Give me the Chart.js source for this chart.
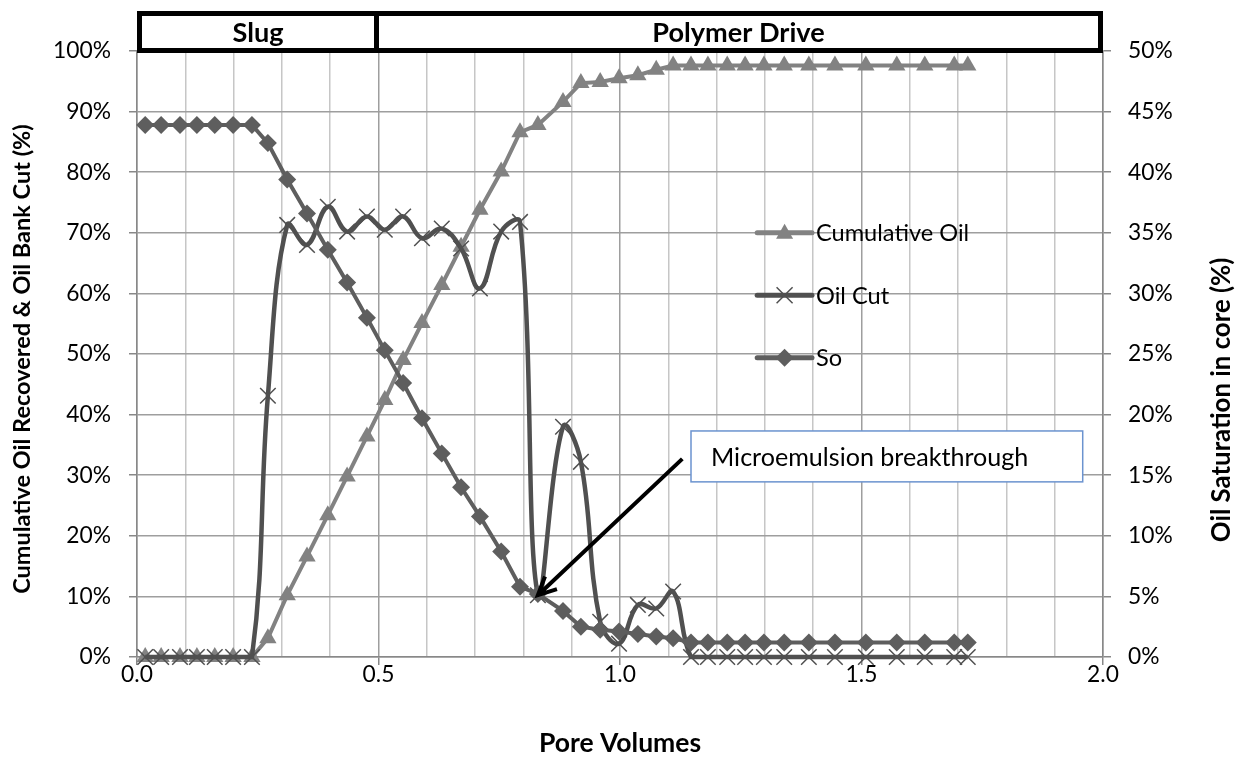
<!DOCTYPE html>
<html>
<head>
<meta charset="utf-8">
<script src="https://cdn.jsdelivr.net/npm/chart.js@4.4.1/dist/chart.umd.min.js"></script>
<style>
  html, body { margin: 0; padding: 0; background: #fff; }
  #wrap { width: 1246px; height: 764px; }
</style>
</head>
<body>
<div id="wrap"><canvas id="myChart" width="1246" height="764"></canvas></div>
<script>
// Values

const poreVolumes = [
  0.017, 0.050, 0.089, 0.124, 0.161, 0.199, 0.238, 0.271, 0.311, 0.352,
  0.395, 0.435, 0.476, 0.513, 0.551, 0.590, 0.631, 0.671, 0.710, 0.754,
  0.793, 0.830, 0.882, 0.919, 0.959, 0.998, 1.037, 1.075, 1.110, 1.147,
  1.182, 1.222, 1.259, 1.298, 1.340, 1.391, 1.445, 1.509, 1.573, 1.631,
  1.692, 1.720
];

// % (left axis)
const cumulativeOil = [
  0, 0, 0, 0, 0, 0, 0, 3.1, 10.2, 16.6,
  23.4, 29.8, 36.4, 42.4, 49.0, 55.1, 61.4, 67.7, 73.8, 80.1,
  86.6, 87.8, 91.6, 94.7, 94.9, 95.5, 96.0, 96.9, 97.6, 97.6,
  97.6, 97.6, 97.6, 97.6, 97.6, 97.6, 97.6, 97.6, 97.6, 97.6,
  97.6, 97.6
];

// % (left axis)
const oilCut = [
  0, 0, 0, 0, 0, 0, 0, 43.1, 71.3, 68.0,
  74.3, 70.2, 72.7, 70.5, 72.7, 69.1, 70.7, 67.4, 60.8, 70.2,
  71.8, 10.2, 38.0, 32.2, 5.8, 2.2, 8.6, 8.0, 10.8, 0,
  0, 0, 0, 0, 0, 0, 0, 0, 0, 0,
  0, 0
];

// % (right axis)
const oilSaturation = [
  43.9, 43.9, 43.9, 43.9, 43.9, 43.9, 43.9, 42.4, 39.4, 36.6,
  33.6, 30.9, 28.0, 25.3, 22.6, 19.7, 16.8, 14.0, 11.6, 8.7,
  5.8, 5.2, 3.8, 2.5, 2.25, 2.1, 1.9, 1.7, 1.55, 1.2,
  1.2, 1.2, 1.2, 1.2, 1.2, 1.2, 1.2, 1.2, 1.2, 1.2,
  1.2, 1.2
];

const xTickLabels = ['0.0', '0.5', '1.0', '1.5', '2.0'];
const stageNames = ['Slug', 'Polymer Drive'];
const stageBounds = [0, 0.5, 2.0];

const FONT = 'Lato';
const DARK = '#505050';
const SO_COLOR = '#5e5e5e';
const CUM_COLOR = '#828282';

// size fonts so text spans roughly what it does in the picture
const measureCtx = document.createElement('canvas').getContext('2d');
function fitSize(text, weight, target) {
  measureCtx.font = `${weight} 100px ${FONT}`;
  return Math.round(100 * target / measureCtx.measureText(text).width * 10) / 10;
}
const tickSize = fitSize('100%', 'normal', 58);
const legendSize = fitSize('Oil Cut', 'normal', 73);
const noteSize = fitSize('Microemulsion breakthrough', 'normal', 318);
const bannerSize = fitSize('Polymer Drive', 'bold', 172);
const xTitleSize = fitSize('Pore Volumes', 'bold', 162);
const leftTitleSize = fitSize('Cumulative Oil Recovered & Oil Bank Cut (%)', 'bold', 470);
const rightTitleSize = fitSize('Oil Saturation in core (%)', 'bold', 285);

const toPoints = ys => poreVolumes.map((x, i) => ({ x: x, y: ys[i] }));

function marker(ctx, style, x, y, color) {
  ctx.save();
  ctx.fillStyle = color;
  ctx.strokeStyle = color;
  ctx.beginPath();
  if (style === 'triangle') {
    ctx.moveTo(x, y - 9);
    ctx.lineTo(x + 8.5, y + 6);
    ctx.lineTo(x - 8.5, y + 6);
    ctx.closePath();
    ctx.fill();
  } else if (style === 'diamond') {
    ctx.moveTo(x, y - 9);
    ctx.lineTo(x + 9, y);
    ctx.lineTo(x, y + 9);
    ctx.lineTo(x - 9, y);
    ctx.closePath();
    ctx.fill();
  } else {
    ctx.lineWidth = 1.5;
    ctx.moveTo(x - 8, y - 8); ctx.lineTo(x + 8, y + 8);
    ctx.moveTo(x + 8, y - 8); ctx.lineTo(x - 8, y + 8);
    ctx.stroke();
  }
  ctx.restore();
}

// banner, legend, note and axis titles
const decorations = {
  id: 'decorations',
  afterDraw(chart) {
    const { ctx, chartArea, scales: { x, y } } = chart;
    ctx.save();

    // stage banner on top of the plot
    const bTop = 13.5, bBottom = 50.5;
    ctx.fillStyle = '#fff';
    ctx.fillRect(chartArea.left, bTop, chartArea.right - chartArea.left, bBottom - bTop);
    ctx.lineWidth = 5;
    ctx.strokeStyle = '#000';
    ctx.font = `bold ${bannerSize}px ${FONT}`;
    ctx.textAlign = 'center';
    ctx.textBaseline = 'middle';
    for (let i = 0; i < stageNames.length; i++) {
      const l = Math.max(x.getPixelForValue(stageBounds[i]) - 2, chartArea.left + 2.5);
      const r = Math.min(x.getPixelForValue(stageBounds[i + 1]) - 2, chartArea.right - 2.5);
      ctx.strokeRect(l, bTop, r - l, bBottom - bTop);
      ctx.fillStyle = '#000';
      ctx.fillText(stageNames[i], (l + r) / 2, (bTop + bBottom) / 2 + 1);
    }

    // legend inside the plot
    const legendItems = [
      { text: 'Cumulative Oil', style: 'triangle', color: CUM_COLOR, at: 70.0 },
      { text: 'Oil Cut', style: 'cross', color: DARK, at: 59.7 },
      { text: 'So', style: 'diamond', color: SO_COLOR, at: 49.4 }
    ];
    const lx0 = x.getPixelForValue(1.284), lx1 = x.getPixelForValue(1.3975);
    ctx.font = `${legendSize}px ${FONT}`;
    ctx.textAlign = 'left';
    legendItems.forEach(item => {
      const ly = y.getPixelForValue(item.at);
      ctx.strokeStyle = item.color;
      ctx.lineWidth = 5;
      ctx.lineCap = 'round';
      ctx.beginPath();
      ctx.moveTo(lx0, ly);
      ctx.lineTo(lx1, ly);
      ctx.stroke();
      ctx.lineCap = 'butt';
      marker(ctx, item.style, (lx0 + lx1) / 2, ly, item.color);
      ctx.fillStyle = '#000';
      ctx.fillText(item.text, lx1 + 4, ly + 1);
    });

    // note with arrow to breakthrough
    const nl = x.getPixelForValue(1.147), nr = x.getPixelForValue(1.958);
    const nt = y.getPixelForValue(37.3), nb = y.getPixelForValue(28.9);
    ctx.fillStyle = '#fff';
    ctx.fillRect(nl, nt, nr - nl, nb - nt);
    ctx.strokeStyle = '#6b93cf';
    ctx.lineWidth = 1.5;
    ctx.strokeRect(nl, nt, nr - nl, nb - nt);
    ctx.fillStyle = '#000';
    ctx.font = `${noteSize}px ${FONT}`;
    ctx.textAlign = 'left';
    ctx.fillText('Microemulsion breakthrough', nl + 20, (nt + nb) / 2 + 1);

    const ax0 = x.getPixelForValue(1.129), ay0 = y.getPixelForValue(32.7);
    const ax1 = x.getPixelForValue(poreVolumes[21]), ay1 = y.getPixelForValue(oilCut[21]);
    const ang = Math.atan2(ay1 - ay0, ax1 - ax0);
    ctx.strokeStyle = '#000';
    ctx.lineWidth = 4;
    ctx.beginPath();
    ctx.moveTo(ax0, ay0);
    ctx.lineTo(ax1, ay1);
    ctx.moveTo(ax1 - 20 * Math.cos(ang - 0.45), ay1 - 20 * Math.sin(ang - 0.45));
    ctx.lineTo(ax1, ay1);
    ctx.lineTo(ax1 - 20 * Math.cos(ang + 0.45), ay1 - 20 * Math.sin(ang + 0.45));
    ctx.stroke();

    // axis titles
    ctx.fillStyle = '#000';
    ctx.textAlign = 'center';
    ctx.textBaseline = 'middle';
    ctx.font = `bold ${xTitleSize}px ${FONT}`;
    ctx.fillText('Pore Volumes', (chartArea.left + chartArea.right) / 2, 743);

    ctx.save();
    ctx.translate(22, 359);
    ctx.rotate(-Math.PI / 2);
    ctx.font = `bold ${leftTitleSize}px ${FONT}`;
    ctx.fillText('Cumulative Oil Recovered & Oil Bank Cut (%)', 0, 0);
    ctx.restore();

    ctx.save();
    ctx.translate(1222, 400);
    ctx.rotate(-Math.PI / 2);
    ctx.font = `bold ${rightTitleSize}px ${FONT}`;
    ctx.fillText('Oil Saturation in core (%)', 0, 0);
    ctx.restore();

    ctx.restore();
  }
};

Chart.defaults.font.family = FONT;
Chart.defaults.color = '#000';

const config = {
  type: 'line',
  data: {
    datasets: [
      {
        label: 'So',
        data: toPoints(oilSaturation),
        yAxisID: 'y2',
        borderColor: SO_COLOR,
        backgroundColor: SO_COLOR,
        borderWidth: 4,
        pointStyle: 'rectRot',
        pointRadius: 9,
        pointBorderWidth: 0,
        tension: 0,
        clip: false,
      },
      {
        label: 'Oil Cut',
        data: toPoints(oilCut),
        yAxisID: 'y',
        borderColor: DARK,
        backgroundColor: DARK,
        borderWidth: 4.5,
        pointStyle: 'crossRot',
        pointRadius: 11,
        pointBorderWidth: 1.5,
        tension: 0.4,
        clip: false,
      },
      {
        label: 'Cumulative Oil',
        data: toPoints(cumulativeOil),
        yAxisID: 'y',
        borderColor: CUM_COLOR,
        backgroundColor: CUM_COLOR,
        borderWidth: 4,
        pointStyle: 'triangle',
        pointRadius: 10,
        pointBorderWidth: 0,
        tension: 0,
        clip: false,
      },
    ],
  },
  options: {
    responsive: false,
    animation: false,
    layout: { padding: { top: 51 } },
    plugins: {
      legend: { display: false },
      tooltip: { enabled: false },
    },
    scales: {
      x: {
        type: 'linear',
        min: 0,
        max: 2,
        afterFit: s => { s.height = 107; },
        ticks: {
          stepSize: 0.1,
          autoSkip: false,
          maxRotation: 0,
          padding: -4,
          font: { size: tickSize },
          callback: v => {
            const t = Math.round(v * 10);
            return t % 5 === 0 ? xTickLabels[t / 5] : '';
          },
        },
        grid: {
          lineWidth: 1.5,
          tickLength: 8,
          color: c => (Math.round(c.tick.value * 10) % 5 === 0 ? '#9e9e9e' : '#c6c6c6'),
          tickColor: c => (Math.round(c.tick.value * 10) % 5 === 0 ? '#888' : 'rgba(0,0,0,0)'),
        },
        border: { color: '#888', width: 1.5 },
      },
      y: {
        position: 'left',
        min: 0,
        max: 100,
        afterFit: s => { s.width = 137; },
        ticks: {
          stepSize: 5,
          padding: 18,
          font: { size: tickSize },
          callback: v => (v % 10 === 0 ? v + '%' : ''),
        },
        grid: {
          lineWidth: 1.5,
          tickLength: 8,
          color: c => (c.tick.value % 10 === 0 ? '#9e9e9e' : '#c6c6c6'),
          tickColor: c => (c.tick.value % 10 === 0 ? '#888' : 'rgba(0,0,0,0)'),
        },
        border: { color: '#888', width: 1.5 },
      },
      y2: {
        position: 'right',
        min: 0,
        max: 50,
        afterFit: s => { s.width = 143; },
        ticks: {
          stepSize: 5,
          padding: 17,
          font: { size: tickSize },
          callback: v => v + '%',
        },
        grid: {
          drawOnChartArea: false,
          lineWidth: 1.5,
          tickLength: 8,
          tickColor: '#888',
        },
        border: { color: '#888', width: 1.5 },
      },
    },
  },
  plugins: [decorations],
};

const myChart = new Chart(document.getElementById('myChart'), config);
</script>
</body>
</html>
